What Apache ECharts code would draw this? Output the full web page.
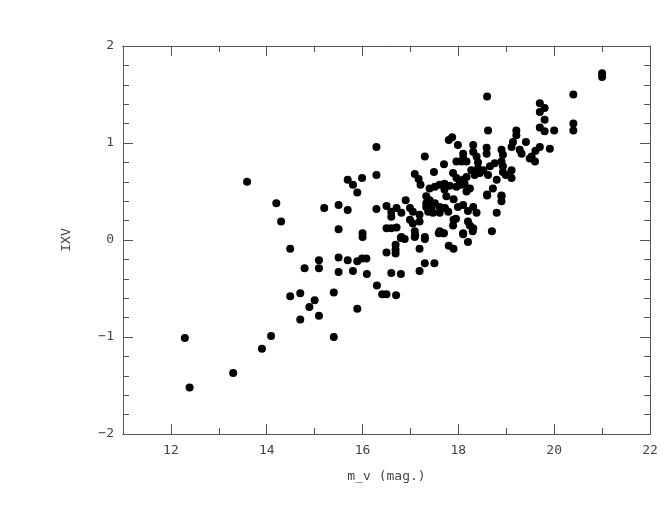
<!DOCTYPE html>
<html>
<head>
<meta charset="utf-8">
<script src="https://cdn.jsdelivr.net/npm/echarts@6/dist/echarts.min.js"></script>
<style>html,body{margin:0;padding:0;background:#fff}#c{width:670px;height:518px}</style>
</head>
<body>
<div id="c"></div>
<script>
const xMajorTicks = [12, 14, 16, 18, 20, 22];
const xMinorTicks = [13, 15, 17, 19, 21];
const mv = [
12.29,12.39,13.30,13.90,14.09,13.59,14.20,14.30,14.49,14.49,14.70,14.70,14.79,14.89,15.00,15.09,15.09,15.09,15.20,15.40,15.40,15.50,15.50,15.50,15.50,15.69,15.69,15.69,15.80,15.80,15.89,15.89,15.89,15.99,16.00,16.00,15.99,16.08,16.09,16.29,16.29,16.29,16.30,16.41,16.50,16.50,16.60,16.70,16.80,16.69,16.69,16.69,16.80,16.88,17.10,17.19,17.30,17.30,17.50,17.19,17.59,17.70,17.80,17.90,18.10,18.20,18.30,18.70,
16.50,16.60,16.60,16.71,16.81,16.90,16.99,17.05,16.99,17.05,16.50,16.60,16.71,16.81,17.09,17.09,17.30,17.33,17.40,17.33,17.33,17.44,17.37,17.47,17.51,17.61,17.72,17.61,17.79,17.19,17.19,17.99,18.31,18.38,18.60,18.80,18.90,18.90,18.20,18.24,18.31,18.10,17.90,17.89,17.61,17.68,17.75,17.90,18.10,18.20,17.95,
17.09,17.17,17.21,17.40,17.51,17.61,17.71,17.82,17.71,17.30,17.70,17.49,17.80,17.87,17.89,18.62,19.21,19.21,19.14,19.11,19.41,19.28,19.32,19.53,19.60,17.99,18.31,18.31,18.59,18.59,18.10,18.10,18.07,17.96,18.17,18.38,18.41,18.90,18.93,18.90,18.66,18.76,18.93,18.93,19.11,19.11,18.80,18.62,18.52,18.41,18.45,18.27,18.34,17.96,18.03,18.10,18.17,17.96,18.07,18.13,18.24,18.17,18.72,18.60,18.90,
21.00,21.00,20.40,20.40,20.40,18.60,19.70,19.80,19.70,19.80,19.70,19.80,20.00,19.91,19.70,19.61,19.49,18.99
];
const ixv = [
-1.01,-1.52,-1.37,-1.12,-0.99,0.60,0.38,0.19,-0.09,-0.58,-0.55,-0.82,-0.29,-0.69,-0.62,-0.21,-0.29,-0.78,0.33,-0.54,-1.00,0.36,0.11,-0.18,-0.33,0.31,0.62,-0.21,0.57,-0.32,0.49,-0.22,-0.71,0.64,0.07,0.03,-0.19,-0.19,-0.35,0.96,0.67,0.32,-0.47,-0.56,-0.56,-0.13,-0.34,-0.57,-0.35,-0.05,-0.10,-0.14,0.02,0.01,0.05,-0.09,0.01,-0.24,-0.24,-0.32,0.07,0.07,-0.06,-0.09,0.06,-0.02,0.09,0.09,
0.35,0.29,0.24,0.33,0.28,0.41,0.33,0.29,0.21,0.17,0.12,0.12,0.13,0.03,0.09,0.03,0.03,0.45,0.41,0.38,0.34,0.33,0.29,0.28,0.38,0.34,0.33,0.28,0.29,0.26,0.19,0.34,0.34,0.28,0.46,0.28,0.45,0.40,0.19,0.15,0.12,0.07,0.21,0.15,0.09,0.07,0.45,0.42,0.36,0.30,0.22,
0.68,0.63,0.57,0.53,0.55,0.57,0.58,0.56,0.52,0.86,0.78,0.70,1.03,1.06,0.69,1.13,1.13,1.08,1.01,0.96,1.01,0.93,0.89,0.86,0.81,0.98,0.98,0.91,0.95,0.89,0.89,0.84,0.81,0.81,0.81,0.86,0.80,0.93,0.88,0.81,0.76,0.79,0.76,0.70,0.72,0.64,0.62,0.67,0.72,0.74,0.69,0.72,0.67,0.64,0.60,0.62,0.65,0.55,0.57,0.58,0.53,0.50,0.53,0.47,0.46,
1.68,1.72,1.50,1.20,1.13,1.48,1.41,1.36,1.32,1.24,1.16,1.12,1.13,0.94,0.96,0.92,0.84,0.67
];
const points = mv.map((m, i) => [m, ixv[i]]);

const font = 'DejaVu Sans Mono';
const lineCol = '#555';
const txtCol = '#444';

function xAx(pos, ticks, len, labels) {
  return {
    type: 'value', position: pos, min: 11, max: 22,
    axisLine: { show: true, onZero: false, lineStyle: { color: lineCol, width: 1 } },
    axisTick: { show: true, inside: true, length: len, customValues: ticks, lineStyle: { color: lineCol } },
    axisLabel: labels ? { show: true, customValues: ticks, color: txtCol, fontFamily: font, fontSize: 13, margin: 10 } : { show: false },
    splitLine: { show: false },
    name: labels ? 'm_v (mag.)' : '', nameLocation: 'middle', nameGap: 36,
    nameTextStyle: { color: txtCol, fontFamily: font, fontSize: 13 }
  };
}
function yAx(pos, labels) {
  return {
    type: 'value', position: pos, min: -2, max: 2, interval: 1,
    axisLine: { show: true, onZero: false, lineStyle: { color: lineCol, width: 1 } },
    axisTick: { show: true, inside: true, length: 10, lineStyle: { color: lineCol } },
    minorTick: { show: true, splitNumber: 5, length: 6, lineStyle: { color: lineCol } },
    axisLabel: labels ? { show: true, color: txtCol, fontFamily: font, fontSize: 13, margin: 9,
      formatter: v => (v < 0 ? '\u2212' + Math.abs(v) : String(v)) } : { show: false },
    splitLine: { show: false }, minorSplitLine: { show: false },
    name: labels ? 'IXV' : '', nameLocation: 'middle', nameGap: 50, nameRotate: 90,
    nameTextStyle: { color: txtCol, fontFamily: font, fontSize: 13 }
  };
}

const chart = echarts.init(document.getElementById('c'), null, { renderer: 'canvas' });
chart.setOption({
  animation: false,
  backgroundColor: '#fff',
  grid: { left: 123, right: 20, top: 46, bottom: 84 },
  xAxis: [
    xAx('bottom', xMajorTicks, 10, true),
    xAx('bottom', xMinorTicks, 6, false),
    xAx('top', xMajorTicks, 10, false),
    xAx('top', xMinorTicks, 6, false)
  ],
  yAxis: [yAx('left', true), yAx('right', false)],
  series: [{
    type: 'scatter', xAxisIndex: 0, yAxisIndex: 0,
    data: points, symbol: 'circle', symbolSize: 8,
    itemStyle: { color: '#000', opacity: 1 }
  }]
});
</script>
</body>
</html>
